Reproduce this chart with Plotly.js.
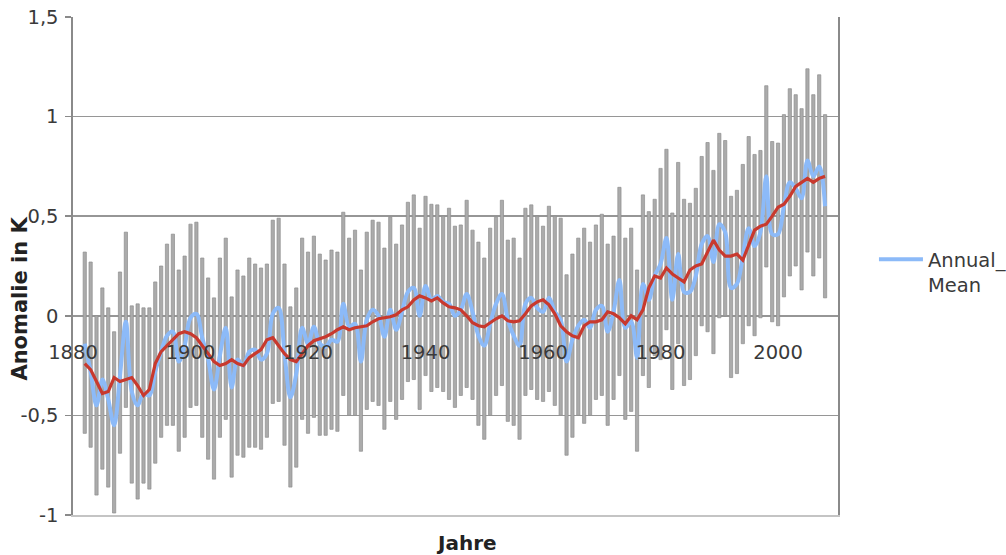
<!DOCTYPE html>
<html>
<head>
<meta charset="utf-8">
<script src="https://cdn.plot.ly/plotly-3.0.1.min.js"></script>
<style>html,body{margin:0;padding:0;background:#fff;}#chart{width:1006px;height:555px;}</style>
</head>
<body>
<div id="chart"></div>
<script>
// Years with data
const years = [1882,1883,1884,1885,1886,1887,1888,1889,1890,1891,1892,1893,1894,1895,1896,1897,1898,1899,1900,1901,
1902,1903,1904,1905,1906,1907,1908,1909,1910,1911,1912,1913,1914,1915,1916,1917,1918,1919,1920,1921,
1922,1923,1924,1925,1926,1927,1928,1929,1930,1931,1932,1933,1934,1935,1936,1937,1938,1939,1940,1941,
1942,1943,1944,1945,1946,1947,1948,1949,1950,1951,1952,1953,1954,1955,1956,1957,1958,1959,1960,1961,
1962,1963,1964,1965,1966,1967,1968,1969,1970,1971,1972,1973,1974,1975,1976,1977,1978,1979,1980,1981,
1982,1983,1984,1985,1986,1987,1988,1989,1990,1991,1992,1993,1994,1995,1996,1997,1998,1999,2000,2001,
2002,2003,2004,2005,2006,2007,2008];

// Annual mean anomaly (blue line)
const annualMean = [-0.14,-0.28,-0.45,-0.32,-0.42,-0.55,-0.30,-0.03,-0.38,-0.45,
-0.39,-0.40,-0.28,-0.18,-0.10,-0.08,-0.23,-0.15,-0.01,0.01,
-0.11,-0.22,-0.37,-0.20,-0.06,-0.36,-0.22,-0.25,-0.18,-0.17,
-0.22,-0.19,0.01,0.04,-0.19,-0.41,-0.29,-0.06,-0.14,-0.055,
-0.14,-0.155,-0.12,-0.13,0.06,-0.055,-0.04,-0.23,-0.02,0.03,
0.00,-0.105,0.03,-0.07,0.02,0.12,0.14,0.00,0.15,0.08,
0.10,0.07,0.06,0.00,0.03,0.11,0.02,-0.10,-0.15,-0.04,
0.06,0.11,-0.02,-0.10,-0.15,0.06,0.09,0.04,0.02,0.09,
0.02,-0.02,-0.23,-0.12,-0.05,-0.02,-0.06,0.03,0.05,-0.08,
0.02,0.18,-0.06,-0.03,-0.21,0.16,0.08,0.20,0.26,0.39,
0.08,0.31,0.12,0.12,0.20,0.36,0.40,0.27,0.46,0.42,
0.14,0.16,0.30,0.44,0.35,0.42,0.70,0.41,0.41,0.55,
0.67,0.64,0.59,0.78,0.70,0.75,0.55];

// Upper end of the grey range bars
const rangeHigh = [0.32,0.27,0.00,0.14,0.04,-0.08,0.22,0.42,0.05,0.06,
0.04,0.04,0.17,0.25,0.36,0.41,0.23,0.30,0.46,0.47,
0.29,0.19,0.09,0.29,0.39,0.095,0.23,0.20,0.29,0.26,
0.24,0.26,0.48,0.49,0.26,0.045,0.14,0.39,0.32,0.40,
0.31,0.28,0.33,0.32,0.52,0.39,0.43,0.23,0.42,0.48,
0.47,0.34,0.495,0.36,0.456,0.57,0.607,0.44,0.60,0.56,
0.557,0.50,0.54,0.45,0.456,0.58,0.43,0.37,0.29,0.44,
0.495,0.58,0.38,0.39,0.29,0.54,0.557,0.50,0.45,0.55,
0.50,0.49,0.206,0.31,0.39,0.44,0.37,0.456,0.51,0.36,
0.40,0.645,0.39,0.44,0.23,0.607,0.523,0.585,0.74,0.836,
0.516,0.77,0.585,0.565,0.64,0.80,0.87,0.73,0.916,0.88,
0.60,0.63,0.76,0.90,0.81,0.83,1.155,0.875,0.867,1.01,
1.14,1.11,1.04,1.24,1.11,1.21,1.01];

// Lower end of the grey range bars
const rangeLow = [-0.59,-0.66,-0.90,-0.77,-0.86,-0.99,-0.69,-0.46,-0.84,-0.92,
-0.84,-0.87,-0.74,-0.61,-0.55,-0.55,-0.68,-0.61,-0.46,-0.45,
-0.61,-0.72,-0.82,-0.61,-0.52,-0.81,-0.70,-0.71,-0.66,-0.66,
-0.67,-0.61,-0.44,-0.43,-0.65,-0.86,-0.76,-0.52,-0.59,-0.51,
-0.60,-0.60,-0.57,-0.58,-0.40,-0.50,-0.50,-0.68,-0.47,-0.43,
-0.45,-0.57,-0.43,-0.52,-0.42,-0.33,-0.32,-0.47,-0.30,-0.38,
-0.36,-0.38,-0.42,-0.46,-0.40,-0.36,-0.42,-0.55,-0.62,-0.50,
-0.40,-0.35,-0.53,-0.55,-0.62,-0.40,-0.37,-0.42,-0.43,-0.38,
-0.45,-0.50,-0.70,-0.61,-0.50,-0.54,-0.50,-0.42,-0.40,-0.55,
-0.42,-0.30,-0.52,-0.48,-0.68,-0.30,-0.36,-0.20,-0.22,-0.07,
-0.37,-0.14,-0.35,-0.32,-0.20,-0.05,-0.08,-0.19,-0.01,0.00,
-0.31,-0.29,-0.14,-0.05,-0.10,-0.01,0.245,-0.03,-0.05,0.095,
0.20,0.25,0.13,0.32,0.20,0.29,0.09];

// Smoothed mean (red line)
const smoothed = [-0.24,-0.27,-0.33,-0.39,-0.38,-0.31,-0.33,-0.32,-0.31,-0.35,
-0.40,-0.37,-0.24,-0.18,-0.15,-0.12,-0.09,-0.08,-0.09,-0.11,
-0.15,-0.19,-0.23,-0.25,-0.24,-0.22,-0.24,-0.25,-0.21,-0.19,
-0.17,-0.12,-0.11,-0.15,-0.19,-0.22,-0.23,-0.19,-0.15,-0.125,
-0.115,-0.105,-0.09,-0.07,-0.055,-0.07,-0.06,-0.055,-0.05,-0.03,
-0.015,-0.01,-0.005,0.005,0.03,0.045,0.08,0.10,0.09,0.075,
0.09,0.065,0.045,0.04,0.03,0.00,-0.035,-0.05,-0.055,-0.035,
-0.015,0.00,-0.025,-0.03,-0.025,0.01,0.05,0.07,0.08,0.055,
0.01,-0.05,-0.08,-0.10,-0.11,-0.05,-0.03,-0.03,-0.02,0.02,
0.01,-0.01,-0.04,0.00,-0.02,0.03,0.14,0.20,0.19,0.24,
0.21,0.19,0.17,0.23,0.25,0.26,0.32,0.38,0.33,0.30,
0.30,0.31,0.28,0.35,0.43,0.45,0.46,0.50,0.545,0.56,
0.60,0.65,0.67,0.69,0.67,0.69,0.70];

const yTicks = [-1, -0.5, 0, 0.5, 1, 1.5];
const yTickText = ['-1', '-0,5', '0', '0,5', '1', '1,5'];
const xTickYears = [1880, 1900, 1920, 1940, 1960, 1980, 2000];
const seriesName = 'Annual_<br>Mean';
const xTitle = 'Jahre';
const yTitle = 'Anomalie in K';

const font = 'DejaVu Sans, Verdana, sans-serif';
const xRange = [1880, 2010.2];

const traces = [
  {
    type: 'bar', x: years,
    base: rangeLow,
    y: rangeHigh.map((h, i) => h - rangeLow[i]),
    width: 0.55,
    marker: {color: '#ababab', line: {color: '#8e8e8e', width: 0.7}},
    showlegend: false, hoverinfo: 'skip'
  },
  {
    type: 'scatter', mode: 'lines', x: years, y: annualMean,
    name: seriesName,
    line: {color: '#8cbaf8', width: 4, shape: 'spline', smoothing: 1}
  },
  {
    type: 'scatter', mode: 'lines', x: years, y: smoothed,
    showlegend: false,
    line: {color: '#c8392e', width: 3.2}
  },
  // invisible helper so the label axis (x2) is drawn
  {type: 'scatter', mode: 'markers', x: [xRange[0]], y: [null], xaxis: 'x2',
   showlegend: false, hoverinfo: 'skip'}
];

const layout = {
  width: 1006, height: 555,
  margin: {l: 73, r: 168, t: 17, b: 40, autoexpand: false},
  paper_bgcolor: '#ffffff', plot_bgcolor: '#ffffff',
  separators: ', ',
  font: {family: font, color: '#3a3a3a', size: 19.5},
  showlegend: true,
  barmode: 'overlay',
  xaxis: {
    range: xRange, showgrid: false, zeroline: false,
    showline: true, linecolor: '#c4c4c4', linewidth: 2,
    showticklabels: false, ticks: ''
  },
  xaxis2: {
    overlaying: 'x', anchor: 'free', position: 0.355, side: 'bottom',
    range: xRange, showgrid: false, zeroline: false, showline: false,
    tickmode: 'array', tickvals: xTickYears, ticktext: xTickYears.map(String),
    ticks: '', tickfont: {family: font, size: 19.5, color: '#3a3a3a'}
  },
  yaxis: {
    range: [-1, 1.5], tickmode: 'array', tickvals: yTicks, ticktext: yTickText,
    showgrid: true, gridcolor: '#969696', gridwidth: 1.6,
    zeroline: false,
    showline: true, mirror: true, linecolor: '#8a8a8a', linewidth: 1.6,
    ticks: 'outside', ticklen: 6, tickcolor: '#8a8a8a', tickwidth: 1.5,
    ticklabelstandoff: 3,
    tickfont: {family: font, size: 19.5, color: '#3a3a3a'}
  },
  legend: {
    x: 1.047, y: 0.552, xanchor: 'left', yanchor: 'top',
    bgcolor: 'rgba(0,0,0,0)', borderwidth: 0,
    itemwidth: 44, valign: 'top',
    font: {family: font, size: 19.5, color: '#3a3a3a'}
  },
  annotations: [
    {text: '<b>' + xTitle + '</b>', xref: 'paper', yref: 'paper', x: 0.515, y: -0.056,
     xanchor: 'center', yanchor: 'middle', showarrow: false,
     font: {family: font, size: 20, color: '#222'}},
    {text: '<b>' + yTitle + '</b>', xref: 'paper', yref: 'paper', x: -0.069, y: 0.435,
     xanchor: 'center', yanchor: 'middle', textangle: -90, showarrow: false,
     font: {family: font, size: 21, color: '#222'}}
  ]
};

Plotly.newPlot('chart', traces, layout, {staticPlot: true, displayModeBar: false});
</script>
</body>
</html>
